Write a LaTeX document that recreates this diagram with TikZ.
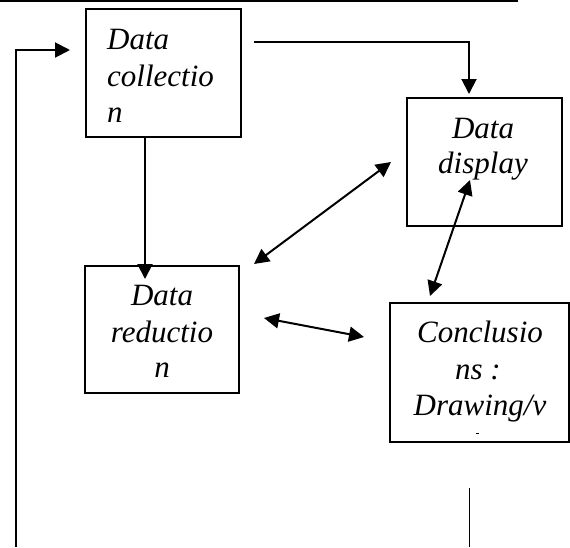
\documentclass[tikz,border=0pt]{standalone}
\usepackage{fontspec}
\setmainfont{Liberation Serif}
\usetikzlibrary{arrows.meta}
\begin{document}
\begin{tikzpicture}[x=1pt,y=-1pt,
  box/.style={draw=black,line width=2pt,rectangle,inner sep=0pt},
  lbl/.style={inner sep=0pt,font=\fontsize{31}{36}\selectfont\itshape},
  conn/.style={line width=2pt,draw=black},
  tip/.style={-{Triangle[length=15pt,width=15pt]}},
  tips/.style={{Triangle[length=15pt,width=15pt]}-{Triangle[length=15pt,width=15pt]}}]
\useasboundingbox (0,0) rectangle (570,547);
% boxes
\node[box,minimum width=155pt,minimum height=128pt] (col) at (163.5,73) {};
\node[box,minimum width=155pt,minimum height=128pt] (disp) at (484.5,162) {};
\node[box,minimum width=154pt,minimum height=127pt] (red) at (162,329.5) {};
\node[box,minimum width=179pt,minimum height=139pt] (conc) at (479.5,372.5) {};
% texts
\node[lbl,anchor=base west] (c1) at (107,49) {Data};
\node[lbl,anchor=base west] (c2) at (107,86) {collectio};
\node[lbl,anchor=base west] (c3) at (107,122) {n};
\node[lbl,anchor=base] (d1) at (483,138) {Data};
\node[lbl,anchor=base] (d2) at (483,173) {display};
\node[lbl,anchor=base] (r1) at (162,305) {Data};
\node[lbl,anchor=base] (r2) at (162,342) {reductio};
\node[lbl,anchor=base] (r3) at (162,377) {n};
\node[lbl,anchor=base] (k1) at (480,342) {Conclusio};
\node[lbl,anchor=base] (k2) at (478,379) {ns :};
\node[lbl,anchor=base] (k3) at (480,415) {Drawing/v};
\coordinate (dashL) at (475.5,433);
\coordinate (dashR) at (478.5,433);
\draw[line width=0.8pt] (dashL) -- (dashR);
% top rule
\coordinate (topL) at (0,1);
\coordinate (topR) at (518,1);
\draw[line width=1.5pt] (topL) -- (topR);
% connectors
\coordinate (fbbot) at (16,547);
\draw[conn,tip] (fbbot) |- ([xshift=-15pt,yshift=23pt]col.west);
\draw[conn,tip] ([xshift=12pt,yshift=31pt]col.east) -| ([xshift=-15.5pt,yshift=3pt]disp.north);
\draw[conn,tip] ([xshift=-18.5pt]col.south) -- ([xshift=-17pt,yshift=-14pt]red.north);
\draw[conn,tips] ([xshift=14pt,yshift=1pt]red.north east) -- ([xshift=-15pt]disp.west);
\draw[conn,tips] ([xshift=24pt,yshift=11.5pt]red.east) -- ([xshift=-25pt,yshift=35.5pt]conc.west);
\draw[conn,tips] ([xshift=-14.5pt,yshift=-18pt]disp.center) -- ([xshift=-49.5pt,yshift=6pt]conc.north);
\coordinate (botend) at (469,547);
\draw[line width=1pt] ([xshift=-10.5pt,yshift=-45pt]conc.south) -- (botend);
\end{tikzpicture}
\end{document}
